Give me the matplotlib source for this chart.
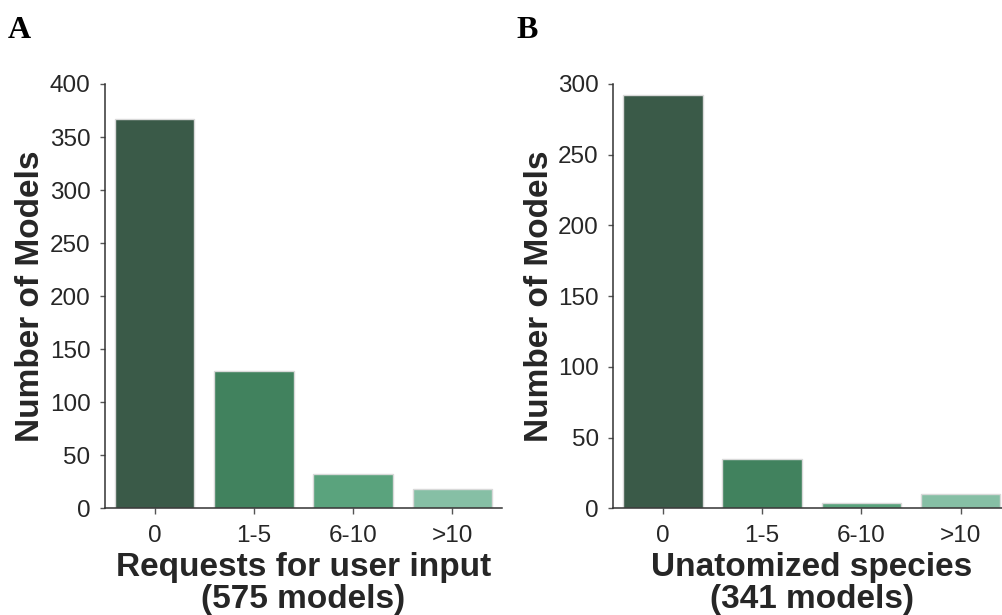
import matplotlib
matplotlib.use("Agg")
import matplotlib.pyplot as plt
import numpy as np

# bins shared by both panels
categories = ["0", "1-5", "6-10", ">10"]

# panel A: requests for user input
user_input_counts = [367, 129, 32, 18]
user_input_label = "Requests for user input\n(575 models)"

# panel B: unatomized species
unatomized_counts = [292, 35, 4, 10]
unatomized_label = "Unatomized species\n(341 models)"

bar_colors = ["#3a5a48", "#41825e", "#5aa37d", "#86bfa5"]

plt.rcParams["font.family"] = ["Liberation Sans", "DejaVu Sans"]

W, H = 1003, 615
fig = plt.figure(figsize=(W / 100, H / 100), dpi=100)


def px_axes(left, top, width, height):
    return fig.add_axes([left / W, 1 - (top + height) / H, width / W, height / H])


def draw_panel(ax, counts, ymax, xlabel):
    x = np.arange(len(categories))
    ax.bar(x, counts, width=0.8, color=bar_colors, edgecolor="#d9d9d9",
           linewidth=1.0, zorder=2)
    ax.set_xlim(-0.5, len(categories) - 0.5)
    ax.set_ylim(0, ymax)
    ax.set_yticks(np.arange(0, ymax + 1, 50))
    ax.set_xticks(x)
    ax.set_xticklabels(categories)
    for side in ("top", "right"):
        ax.spines[side].set_visible(False)
    for side in ("left", "bottom"):
        ax.spines[side].set_color("#333333")
        ax.spines[side].set_linewidth(1.1)
    ax.tick_params(axis="both", labelsize=17.5, colors="#555555",
                   labelcolor="#262626", width=1.0)
    ax.tick_params(axis="x", length=4, pad=8)
    ax.tick_params(axis="y", length=3.5, pad=7)
    ax.set_ylabel("Number of Models", fontsize=24, fontweight="bold",
                  color="#262626")
    ax.yaxis.set_label_coords(-0.148, 0.5)
    ax.set_xlabel(xlabel, fontsize=24, fontweight="bold", color="#262626",
                  linespacing=1.05)
    ax.xaxis.set_label_coords(0.5, -0.103)


ax_a = px_axes(105, 84, 397, 424.3)
draw_panel(ax_a, user_input_counts, 400, user_input_label)

ax_b = px_axes(613.3, 84, 397, 424.3)
draw_panel(ax_b, unatomized_counts, 300, unatomized_label)

# panel letters
for letter, xpx in (("A", 8), ("B", 516)):
    fig.text(xpx / W, 1 - 38 / H, letter, fontsize=23, fontweight="bold",
             family="Liberation Serif", ha="left", va="baseline")

fig.savefig("out.png", dpi=100)
